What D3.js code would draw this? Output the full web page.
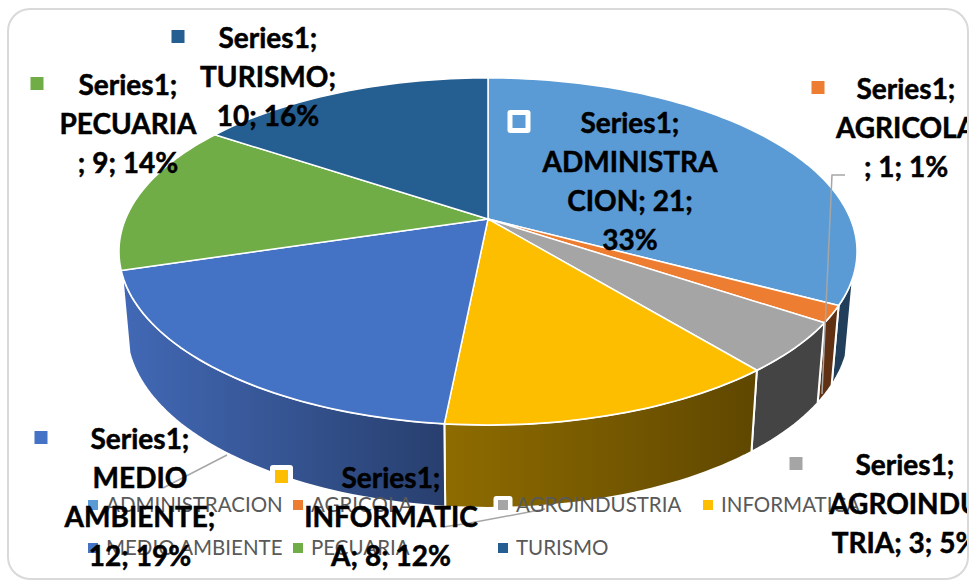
<!DOCTYPE html>
<html>
<head>
<meta charset="utf-8">
<script src="https://cdn.jsdelivr.net/npm/d3@7"></script>
<style>
  html, body { margin: 0; padding: 0; background: #fff; }
  svg { display: block; }
  text { font-family: Lato, "Open Sans", sans-serif; }
</style>
</head>
<body>
<svg id="chart"></svg>
<script>
let categories = ['ADMINISTRACION', 'AGRICOLA', 'AGROINDUSTRIA', 'INFORMATICA', 'MEDIO AMBIENTE', 'PECUARIA', 'TURISMO'];
let values = [21, 1, 3, 8, 12, 9, 10];
let percents = [33, 1, 5, 12, 19, 14, 16];
let seriesName = 'Series1';

let topColors = ['#5b9bd5', '#ed7d31', '#a5a5a5', '#fdbe00', '#4472c4', '#70ad47', '#255e91'];
let sideLight = ['#213f5a', '#5f3012', '#444444', '#8f6c00', '#4269b6', '#70ad47', '#255e91'];
let sideDark = ['#213f5a', '#5f3012', '#444444', '#5f4700', '#283f6e', '#70ad47', '#255e91'];

// wrapped the way the chart wraps them, one entry per category
let labelLines = [
  [seriesName + ';', 'ADMINISTRA', 'CION; 21;', '33%'],
  [seriesName + ';', 'AGRICOLA', '; 1; 1%'],
  [seriesName + ';', 'AGROINDU', 'TRIA; 3; 5%'],
  [seriesName + ';', 'INFORMATIC', 'A; 8; 12%'],
  [seriesName + ';', 'MEDIO', 'AMBIENTE;', '12; 19%'],
  [seriesName + ';', 'PECUARIA', '; 9; 14%'],
  [seriesName + ';', 'TURISMO;', '10; 16%']
];

let width = 971;
let height = 580;

let cx = 488;
let cy = 219;
let radiusX = 362.5;
let radiusY = 167.4;
let perspective = 0.187;

let svg = d3.select('#chart').attr('width', width).attr('height', height);
let defs = svg.append('defs');

defs.append('clipPath').attr('id', 'frame-clip')
  .append('rect')
  .attr('x', 9).attr('y', 10)
  .attr('width', 959).attr('height', 569)
  .attr('rx', 22);

// circle -> tilted ellipse with the front nearer to the viewer
function project(angle, drop) {
  let u = Math.sin(angle);
  let v = -Math.cos(angle);
  let w = 1 - perspective * v;
  let x = radiusX * u / w;
  let y = radiusY * v / w;
  if (drop) {
    return [cx + x * 0.98, cy + y + 77 + 6 * v];
  }
  return [cx + x, cy + y];
}

function arcAngles(a0, a1) {
  let n = Math.max(2, Math.ceil((a1 - a0) * 40));
  return d3.range(n + 1).map((i) => a0 + (a1 - a0) * i / n);
}

let line = d3.line().curve(d3.curveLinear);
let slices = d3.pie().sort(null)(values);

// only this stretch of the rim faces the viewer
let rimStart = 109 * Math.PI / 180;
let rimEnd = 252 * Math.PI / 180;

let sides = slices
  .map((s) => ({ i: s.index, a0: Math.max(s.startAngle, rimStart), a1: Math.min(s.endAngle, rimEnd) }))
  .filter((s) => s.a1 > s.a0);

sides.forEach((s) => {
  let xs = arcAngles(s.a0, s.a1).map((a) => project(a, false)[0]);
  let grad = defs.append('linearGradient')
    .attr('id', 'side-' + s.i)
    .attr('gradientUnits', 'userSpaceOnUse')
    .attr('x1', d3.min(xs)).attr('x2', d3.max(xs))
    .attr('y1', 0).attr('y2', 0);
  grad.append('stop').attr('offset', 0).attr('stop-color', sideLight[s.i]);
  grad.append('stop').attr('offset', 1).attr('stop-color', sideDark[s.i]);
});

svg.append('g')
  .selectAll('path')
  .data(sides)
  .join('path')
  .attr('d', (s) => {
    let angles = arcAngles(s.a0, s.a1);
    let upper = angles.map((a) => project(a, false));
    let lower = angles.slice().reverse().map((a) => project(a, true));
    return line(upper.concat(lower)) + 'Z';
  })
  .attr('fill', (s) => 'url(#side-' + s.i + ')')
  .attr('stroke', '#fff')
  .attr('stroke-width', 2)
  .attr('stroke-linejoin', 'round');

svg.append('g')
  .selectAll('path')
  .data(slices)
  .join('path')
  .attr('d', (s) => line([[cx, cy]].concat(arcAngles(s.startAngle, s.endAngle).map((a) => project(a, false)))) + 'Z')
  .attr('fill', (s) => topColors[s.index])
  .attr('stroke', '#fff')
  .attr('stroke-width', 1.5)
  .attr('stroke-linejoin', 'round');

// leader lines
let leaders = [
  [[845, 175], [832, 175], [822, 394]],
  [[163, 488], [227, 455]],
  [[443, 527], [470, 523], [545, 509]]
];
svg.append('g')
  .selectAll('path')
  .data(leaders)
  .join('path')
  .attr('d', (d) => line(d))
  .attr('fill', 'none')
  .attr('stroke', '#a6a6a6')
  .attr('stroke-width', 1.5);

let plot = svg.append('g').attr('clip-path', 'url(#frame-clip)');

// legend, sits under the data labels
let legendX = [93, 298, 503, 708];
let legendY = [505, 548];
let legend = plot.append('g')
  .selectAll('g')
  .data(categories)
  .join('g')
  .attr('transform', (d, i) => `translate(${legendX[i < 4 ? i : i - 4]},${legendY[i < 4 ? 0 : 1]})`);

// the selected legend key gets a white box
legend.filter((d) => d === 'AGROINDUSTRIA').append('rect')
  .attr('x', -9.5).attr('y', -9)
  .attr('width', 19).attr('height', 18)
  .attr('rx', 3)
  .attr('fill', '#fff');

legend.append('rect')
  .attr('x', -5).attr('y', -5)
  .attr('width', 10).attr('height', 10)
  .attr('fill', (d, i) => topColors[i]);

legend.append('text')
  .attr('x', 13)
  .attr('dy', '0.35em')
  .attr('font-size', 20.5)
  .attr('fill', '#595959')
  .text((d) => d);

// data labels: x centre and first line centre for each category
let labelX = [630, 906, 905, 391, 140, 128, 268];
let labelY = [123, 89, 465, 478, 439, 85, 38];
let lineGap = 39;
let markerX = [519, 818, 796, 281.5, 41, 37, 178];
let markerBoxed = ['ADMINISTRACION', 'INFORMATICA'];

let labels = plot.append('g')
  .selectAll('g')
  .data(labelLines)
  .join('g')
  .attr('transform', (d, i) => `translate(${labelX[i]},${labelY[i]})`);

labels.selectAll('text')
  .data((d) => d)
  .join('text')
  .attr('text-anchor', 'middle')
  .attr('y', (d, j) => j * lineGap)
  .attr('dy', '0.35em')
  .attr('font-size', 28)
  .attr('font-weight', 700)
  .attr('fill', '#000')
  .attr('stroke', '#000')
  .attr('stroke-width', 0.5)
  .text((d) => d);

let markers = plot.append('g')
  .selectAll('g')
  .data(categories)
  .join('g')
  .attr('transform', (d, i) => `translate(${markerX[i]},${labelY[i] - 1.5})`);

markers.filter((d) => markerBoxed.includes(d)).append('rect')
  .attr('x', -11.5).attr('y', -11.5)
  .attr('width', 23).attr('height', 23)
  .attr('rx', 3)
  .attr('fill', '#fff');

markers.append('rect')
  .attr('x', -6.5).attr('y', -6.5)
  .attr('width', 13).attr('height', 13)
  .attr('fill', (d, i) => topColors[i]);

svg.append('rect')
  .attr('x', 8).attr('y', 9)
  .attr('width', 960).attr('height', 570)
  .attr('rx', 22)
  .attr('fill', 'none')
  .attr('stroke', '#d9d9d9')
  .attr('stroke-width', 2);
</script>
</body>
</html>
